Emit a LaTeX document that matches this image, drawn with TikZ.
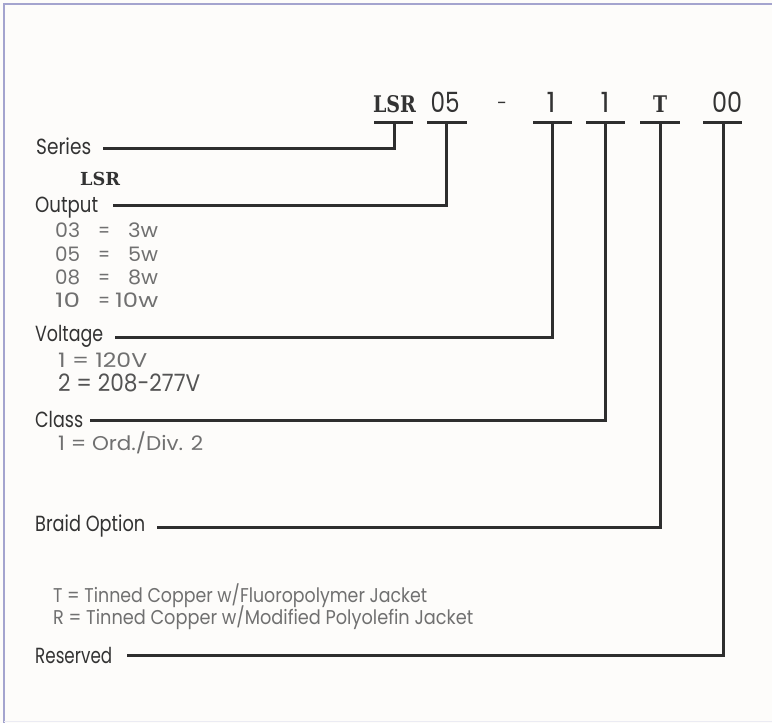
\documentclass[tikz,border=0pt]{standalone}
\usepackage{graphicx}
\usepackage{fontspec}
\newfontfamily\lblfont{Poppins}
\newfontfamily\slabfont{DejaVu Serif}
\definecolor{bgc}{HTML}{FDFCFA}
\definecolor{framec}{HTML}{A4A4CE}
\definecolor{framelight}{HTML}{EBEBF3}
\definecolor{linec}{HTML}{2E2E2E}
\definecolor{labc}{HTML}{333333}
\definecolor{subc}{HTML}{707070}
\newcommand{\fitw}[2]{\resizebox{#1bp}{\height}{#2}}
\tikzset{
  conn/.style={line width=3bp, draw=linec, line join=miter},
  lbl/.style={anchor=base west, inner sep=0pt, text=labc, font=\lblfont\fontsize{22}{26}\selectfont},
  subt/.style={anchor=base west, inner sep=0pt, text=subc, font=\lblfont\fontsize{20}{23}\selectfont},
  code/.style={anchor=base, inner sep=0pt, text=labc, font=\lblfont\fontsize{28}{32}\selectfont},
  codeb/.style={anchor=base, inner sep=0pt, text=labc, font=\slabfont\bfseries\fontsize{23}{26}\selectfont},
}
\newcommand{\orow}[4]{\makebox[42bp][l]{\fitw{25}{#1}}\makebox[14bp][c]{\fitw{12}{#2}}\makebox[47bp][r]{\fitw{#4}{#3}}}
\begin{document}
\begin{tikzpicture}[x=1bp,y=-1bp]
\useasboundingbox (0,0) rectangle (772,723);
\fill[bgc] (0,0) rectangle (772,723);
\draw[framec, line width=1.6bp] (4,723) -- (4,4) -- (772,4);
\draw[framelight, line width=1.6bp] (4,721.5) -- (772,721.5);

% header code
\node[codeb] (hLSR) at (394.5,113) {\fitw{43}{LSR}};
\node[code]  (h05)  at (445,113) {\fitw{29}{05}};
\node[code, font=\lblfont\fontsize{18}{20}\selectfont]  (hdash) at (502,110) {-};
\node[code]  (h1a)  at (551,113) {1};
\node[code]  (h1b)  at (605,113) {1};
\node[codeb] (hT)   at (660,113) {\fitw{14}{T}};
\node[code]  (h00)  at (727,113) {\fitw{30}{00}};

% underline ends and stem tops
\coordinate (uLa) at (374,123); \coordinate (uLb) at (413,123); \coordinate (sL) at (394,123);
\coordinate (u5a) at (427,123); \coordinate (u5b) at (467,123); \coordinate (s5) at (446,123);
\coordinate (u1a) at (533,123); \coordinate (u1b) at (572,123); \coordinate (s1) at (552,123);
\coordinate (u2a) at (586,123); \coordinate (u2b) at (625,123); \coordinate (s2) at (605,123);
\coordinate (uTa) at (640,123); \coordinate (uTb) at (680,123); \coordinate (sT) at (660,123);
\coordinate (u0a) at (703,123); \coordinate (u0b) at (742,123); \coordinate (s0) at (723,123);
\foreach \a/\b in {uLa/uLb,u5a/u5b,u1a/u1b,u2a/u2b,uTa/uTb,u0a/u0b}
  \draw[conn] (\a) -- (\b);

% labels
\node[lbl] (series) at (36,155) {\fitw{55}{Series}};
\node[anchor=base west, inner sep=0pt, text=labc, font=\slabfont\bfseries\fontsize{18}{20}\selectfont] (lsrsub) at (80,185) {\fitw{40}{LSR}};
\node[lbl] (output) at (35,212) {\fitw{63}{Output}};
\node[subt] (o1) at (55,237) {\orow{03}{=}{3w}{30}};
\node[subt] (o2) at (55,261) {\orow{05}{=}{5w}{30}};
\node[subt] (o3) at (55,284) {\orow{08}{=}{8w}{30}};
\node[subt] (o4) at (55,307) {\orow{10}{=}{10w}{43}};
\node[lbl] (voltage) at (35,341) {\fitw{68}{Voltage}};
\node[subt] (v1) at (58,367) {\fitw{89}{1 = 120V}};
\node[subt, text=subc!75!black, font=\lblfont\fontsize{24}{27}\selectfont] (v2) at (58,391) {\fitw{142}{2 = 208-277V}};
\node[lbl] (class) at (35,427) {\fitw{48}{Class}};
\node[subt] (c1) at (58,450) {\fitw{145}{1 = Ord./Div. 2}};
\node[lbl] (braid) at (35,531) {\fitw{110}{Braid Option}};
\node[subt] (b1) at (53,602) {\fitw{374}{T = Tinned Copper w/Fluoropolymer Jacket}};
\node[subt] (b2) at (53,624) {\fitw{420}{R = Tinned Copper w/Modified Polyolefin Jacket}};
\node[lbl] (reserved) at (35,663) {\fitw{77}{Reserved}};

% connector ends
\coordinate (eS) at (103,148);
\coordinate (eO) at (113,205);
\coordinate (eV) at (115,337);
\coordinate (eC) at (90,420);
\coordinate (eB) at (157,527);
\coordinate (eR) at (127,655);

\draw[conn] (sL) |- (eS);
\draw[conn] (s5) |- (eO);
\draw[conn] (s1) |- (eV);
\draw[conn] (s2) |- (eC);
\draw[conn] (sT) |- (eB);
\draw[conn] (s0) |- (eR);
\end{tikzpicture}
\end{document}
